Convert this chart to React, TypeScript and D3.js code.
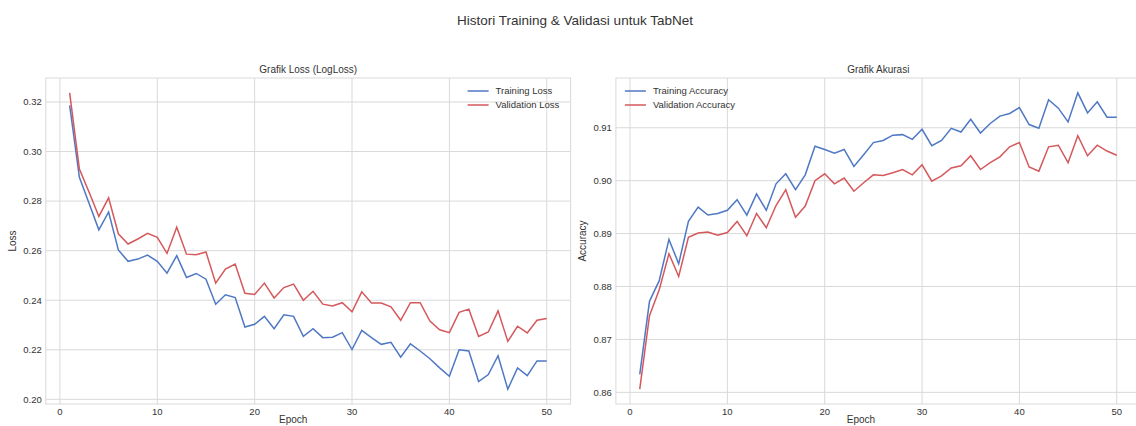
import React from 'react';
import * as d3 from 'd3';

const epochs = d3.range(1, 51);

const trainLoss = [
  0.3186, 0.2896, 0.279, 0.2684, 0.2756, 0.2603, 0.2557, 0.2566, 0.2582, 0.2557,
  0.2509, 0.258, 0.2492, 0.2508, 0.2485, 0.2384, 0.2422, 0.2411, 0.2292, 0.2303,
  0.2335, 0.2285, 0.2341, 0.2335, 0.2254, 0.2285, 0.2249, 0.2251, 0.2269, 0.2201,
  0.2278, 0.2249, 0.2222, 0.223, 0.217, 0.2224, 0.2195, 0.2164, 0.2127, 0.2093,
  0.22, 0.2195, 0.2072, 0.21, 0.2176, 0.2041, 0.2127, 0.2096, 0.2155, 0.2155,
];
const valLoss = [
  0.3237, 0.2929, 0.2836, 0.2738, 0.2813, 0.2668, 0.2627, 0.2647, 0.267, 0.2654,
  0.2589, 0.2695, 0.2586, 0.2584, 0.2595, 0.2469, 0.2526, 0.2546, 0.2428, 0.2423,
  0.2469, 0.2409, 0.2451, 0.2465, 0.24, 0.2436, 0.2384, 0.2377, 0.239, 0.2353,
  0.2434, 0.2389, 0.2389, 0.2373, 0.2319, 0.239, 0.239, 0.2316, 0.2281, 0.2269,
  0.2351, 0.2364, 0.2254, 0.2272, 0.2357, 0.2234, 0.2295, 0.2268, 0.2319, 0.2326,
];
const trainAcc = [
  0.8634, 0.8772, 0.8811, 0.8889, 0.8843, 0.8923, 0.895, 0.8935, 0.8938, 0.8944,
  0.8964, 0.8935, 0.8975, 0.8944, 0.8994, 0.9013, 0.8983, 0.9011, 0.9065, 0.9059,
  0.9052, 0.9059, 0.9027, 0.9049, 0.9072, 0.9076, 0.9086, 0.9087, 0.9078, 0.9097,
  0.9066, 0.9076, 0.9099, 0.9092, 0.9116, 0.909, 0.9108, 0.9122, 0.9127, 0.9138,
  0.9106, 0.9099, 0.9153, 0.9137, 0.9111, 0.9166, 0.9128, 0.9149, 0.912, 0.912,
];
const valAcc = [
  0.8606, 0.8745, 0.8794, 0.8862, 0.8819, 0.8893, 0.8901, 0.8903, 0.8897, 0.8902,
  0.8923, 0.8896, 0.8938, 0.8911, 0.8953, 0.8983, 0.8931, 0.8952, 0.9, 0.9013,
  0.8994, 0.9005, 0.898, 0.8996, 0.9011, 0.901, 0.9015, 0.9021, 0.9011, 0.903,
  0.8999, 0.9009, 0.9024, 0.9028, 0.9047, 0.9021, 0.9034, 0.9045, 0.9064, 0.9072,
  0.9026, 0.9018, 0.9064, 0.9067, 0.9034, 0.9085, 0.9047, 0.9067, 0.9056, 0.9048,
];

const xTicks = [0, 10, 20, 30, 40, 50];
const lossTicks = [0.2, 0.22, 0.24, 0.26, 0.28, 0.3, 0.32];
const accTicks = [0.86, 0.87, 0.88, 0.89, 0.9, 0.91];

const W = 1136;
const H = 426;
const FONT = '"Liberation Sans", Arial, sans-serif';
const BLUE = '#4f78c4';
const RED = '#d4585c';
const GRID = '#d9d9d9';
const TXT = '#333';

// matplotlib style 5% padding
const pad = (lo: number, hi: number) => {
  const m = (hi - lo) * 0.05;
  return [lo - m, hi + m];
};

type PanelProps = {
  left: number;
  right: number;
  top: number;
  bottom: number;
  title: string;
  ylabel: string;
  yTicks: number[];
  fmt: (v: number) => string;
  train: number[];
  val: number[];
  names: string[];
  legendRight: boolean;
};

const Panel = (p: PanelProps) => {
  const x = d3.scaleLinear(pad(1, 50), [p.left, p.right]);
  const all = p.train.concat(p.val);
  const y = d3.scaleLinear(pad(d3.min(all)!, d3.max(all)!), [p.bottom, p.top]);
  const line = d3.line<number>().x((_, i) => x(epochs[i])).y(d => y(d));
  const cx = (p.left + Math.min(p.right, W)) / 2;
  const titleX = (p.left + p.right) / 2;
  const lx = p.legendRight ? p.right - 103 : p.left + 9;

  return (
    <g fontFamily={FONT}>
      {xTicks.map(t => (
        <g key={'x' + t}>
          <line x1={x(t)} x2={x(t)} y1={p.top} y2={p.bottom} stroke={GRID} />
          <text x={x(t)} y={p.bottom + 11} fontSize={9.5} fill={TXT} textAnchor="middle">{t}</text>
        </g>
      ))}
      {p.yTicks.map(t => (
        <g key={'y' + t}>
          <line x1={p.left} x2={p.right} y1={y(t)} y2={y(t)} stroke={GRID} />
          <text x={p.left - 4} y={y(t)} dy="0.35em" fontSize={9.5} fill={TXT} textAnchor="end">{p.fmt(t)}</text>
        </g>
      ))}
      <rect x={p.left} y={p.top} width={p.right - p.left} height={p.bottom - p.top} fill="none" stroke={GRID} />
      <path d={line(p.train)!} fill="none" stroke={BLUE} strokeWidth={1.5} />
      <path d={line(p.val)!} fill="none" stroke={RED} strokeWidth={1.5} />
      <text x={titleX} y={p.top - 5} fontSize={10} fill={TXT} textAnchor="middle">{p.title}</text>
      <text x={cx - 15} y={p.bottom + 19} fontSize={10} fill={TXT} textAnchor="middle">Epoch</text>
      <text transform={`translate(${p.left - 30},${(p.top + p.bottom) / 2}) rotate(-90)`} fontSize={10} fill={TXT} textAnchor="middle">{p.ylabel}</text>
      {[BLUE, RED].map((c, i) => (
        <g key={c}>
          <line x1={lx} x2={lx + 21} y1={p.top + 13 + i * 14} y2={p.top + 13 + i * 14} stroke={c} strokeWidth={1.5} />
          <text x={lx + 28} y={p.top + 13 + i * 14} dy="0.35em" fontSize={9.5} fill={TXT}>{p.names[i]}</text>
        </g>
      ))}
    </g>
  );
};

export default function App() {
  return (
    <svg width={W} height={H} style={{ position: 'absolute', left: 0, top: 0, background: '#fff' }}>
      <rect width={W} height={H} fill="#fff" />
      <text x={575} y={25} fontFamily={FONT} fontSize={13.5} fill={TXT} textAnchor="middle">
        Histori Training &amp; Validasi untuk TabNet
      </text>
      <Panel
        left={45.8} right={570.6} top={78} bottom={404}
        title="Grafik Loss (LogLoss)" ylabel="Loss"
        yTicks={lossTicks} fmt={d3.format('.2f')}
        train={trainLoss} val={valLoss}
        names={['Training Loss', 'Validation Loss']} legendRight={true}
      />
      <Panel
        left={615.9} right={1140.6} top={78} bottom={404}
        title="Grafik Akurasi" ylabel="Accuracy"
        yTicks={accTicks} fmt={d3.format('.2f')}
        train={trainAcc} val={valAcc}
        names={['Training Accuracy', 'Validation Accuracy']} legendRight={false}
      />
    </svg>
  );
}
